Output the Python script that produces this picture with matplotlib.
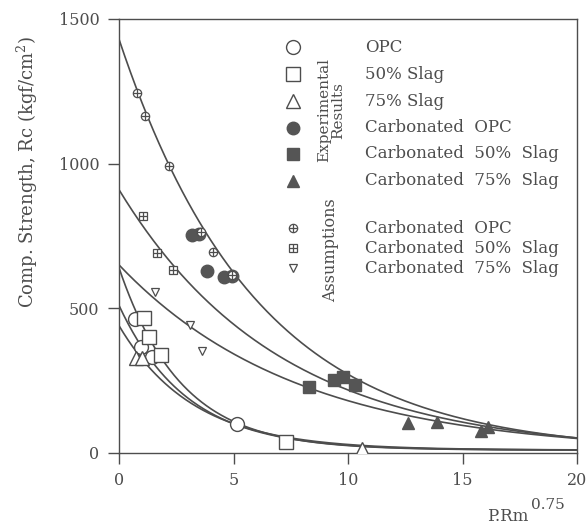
import numpy as np
import matplotlib
matplotlib.use("Agg")
import matplotlib.pyplot as plt

plt.rcParams["font.family"] = ["DejaVu Serif"]
plt.rcParams["mathtext.fontset"] = "dejavuserif"

INK = "#4d4d4d"

# experimental results (uncarbonated)
opc_x = [0.7, 0.95, 1.45, 5.15]
opc_y = [463, 365, 332, 99]
slag50_x = [1.1, 1.3, 1.85, 7.3]
slag50_y = [468, 400, 340, 39]
slag75_x = [0.75, 1.0, 10.6]
slag75_y = [330, 327, 15]

# experimental results (carbonated)
c_opc_x = [3.2, 3.5, 3.85, 4.6, 4.95]
c_opc_y = [755, 757, 628, 607, 612]
c_slag50_x = [8.3, 9.4, 9.8, 10.3]
c_slag50_y = [228, 252, 262, 236]
c_slag75_x = [12.6, 13.9, 15.8, 16.1]
c_slag75_y = [103, 108, 75, 90]

# assumptions (carbonated)
a_opc_x = [0.77, 1.15, 2.2, 3.6, 4.1, 4.95]
a_opc_y = [1243, 1163, 993, 765, 695, 615]
a_slag50_x = [1.05, 1.66, 2.36]
a_slag50_y = [818, 690, 632]
a_slag75_x = [1.57, 3.1, 3.62]
a_slag75_y = [555, 442, 354]

# fitted curves Rc = r0 * exp(-k * x) + r_inf
curve_r0 = [1430, 910, 650, 630, 500, 430]
curve_k = [0.166, 0.143, 0.128, 0.37, 0.34, 0.31]
curve_rinf = [0, 0, 0, 10, 10, 10]

fig = plt.figure(figsize=(5.88, 5.26), dpi=100)
ax = fig.add_axes([0.2024, 0.1388, 0.7789, 0.8251])

xs = np.linspace(0, 20, 400)
for r0, k, rinf in zip(curve_r0, curve_k, curve_rinf):
    ax.plot(xs, r0 * np.exp(-k * xs) + rinf, color=INK, lw=1.2, zorder=2)

big = 10
hollow = dict(ls="none", mfc="white", mec=INK, mew=1.0, ms=big, zorder=3)
solid = dict(ls="none", mfc="#555555", mec="#555555", ms=big - 1, zorder=3)

ax.plot(opc_x, opc_y, marker="o", **hollow)
ax.plot(slag50_x, slag50_y, marker="s", **hollow)
ax.plot(slag75_x, slag75_y, marker="^", **hollow)
ax.plot(c_opc_x, c_opc_y, marker="o", **solid)
ax.plot(c_slag50_x, c_slag50_y, marker="s", **solid)
ax.plot(c_slag75_x, c_slag75_y, marker="^", **solid)

small = dict(ls="none", mfc="white", mec=INK, mew=0.9, ms=6, zorder=4)
cross = dict(ls="none", color=INK, mew=0.9, ms=6, zorder=5)
ax.plot(a_opc_x, a_opc_y, marker="o", **small)
ax.plot(a_opc_x, a_opc_y, marker="+", **cross)
ax.plot(a_slag50_x, a_slag50_y, marker="s", **small)
ax.plot(a_slag50_x, a_slag50_y, marker="+", **cross)
ax.plot(a_slag75_x, a_slag75_y, marker="v", **small)

ax.set_xlim(0, 20)
ax.set_ylim(0, 1500)
ax.set_xticks([0, 5, 10, 15, 20])
ax.set_yticks([0, 500, 1000, 1500])
ax.tick_params(direction="out", length=8, width=1.0, color=INK,
               labelcolor=INK, labelsize=11.5, pad=6)
for s in ax.spines.values():
    s.set_color(INK)
    s.set_linewidth(1.0)

# hand-made legend
mx = 0.38
tx = 0.537
rows = [
    (0.935, "o", hollow, "OPC"),
    (0.873, "s", hollow, "50% Slag"),
    (0.811, "^", hollow, "75% Slag"),
    (0.749, "o", solid, "Carbonated  OPC"),
    (0.689, "s", solid, "Carbonated  50%  Slag"),
    (0.627, "^", solid, "Carbonated  75%  Slag"),
    (0.518, "o", small, "Carbonated  OPC"),
    (0.472, "s", small, "Carbonated  50%  Slag"),
    (0.426, "v", small, "Carbonated  75%  Slag"),
]
for y, m, st, label in rows:
    ax.plot([mx], [y], marker=m, transform=ax.transAxes, clip_on=False, **st)
    if st is small and m != "v":
        ax.plot([mx], [y], marker="+", transform=ax.transAxes,
                clip_on=False, **cross)
    ax.text(tx, y, label, transform=ax.transAxes, ha="left", va="center",
            fontsize=12, color=INK)

ax.text(0.463, 0.79, "Experimental\nResults", transform=ax.transAxes,
        rotation=90, ha="center", va="center", multialignment="center",
        fontsize=11, color=INK, linespacing=0.95)
ax.text(0.461, 0.468, "Assumptions", transform=ax.transAxes,
        rotation=90, ha="center", va="center", fontsize=11.5, color=INK)

fig.text(27 / 588, 1 - 172 / 526, "Comp. Strength, Rc (kgf/cm$^2$)",
         rotation=90, ha="center", va="center", fontsize=13, color=INK)
fig.text(528 / 588, 5 / 526, "P.Rm", ha="right", va="baseline",
         fontsize=12, color=INK)
fig.text(531 / 588, 17 / 526, "0.75", ha="left", va="baseline",
         fontsize=11, color=INK)

fig.savefig("out.png", dpi=100)
